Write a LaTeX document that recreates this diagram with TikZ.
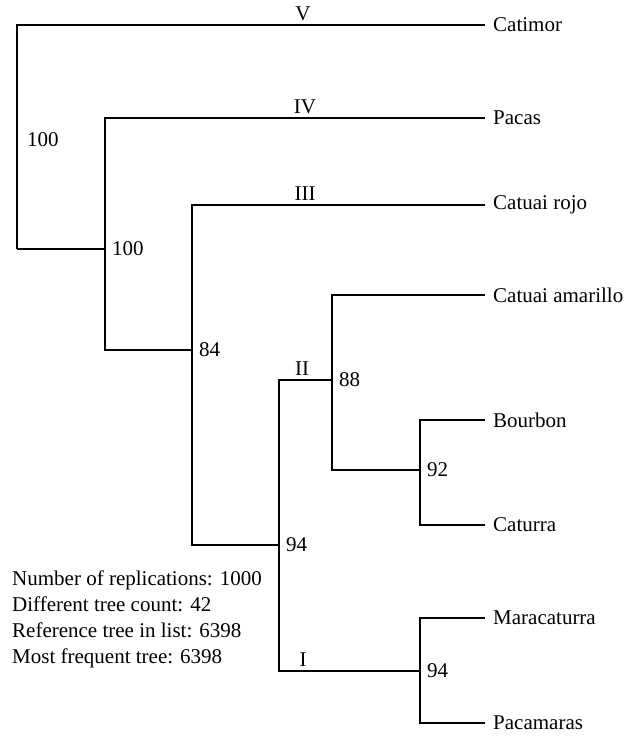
\documentclass[tikz,border=0pt]{standalone}
\usepackage{fontspec}
\setmainfont{Liberation Serif}
\usetikzlibrary{positioning}

\begin{document}
\begin{tikzpicture}[x=1pt,y=-1pt,
  font=\fontsize{21}{26}\selectfont,
  edge/.style={draw=black,line width=1.1pt},
  leaf/.style={anchor=west,inner xsep=8pt,inner ysep=0pt},
  bs/.style={inner sep=3pt},
  br/.style={anchor=south,inner sep=4pt}
]
  \useasboundingbox (0,0) rectangle (641,736);

  % ---- Leaves (right column) ----------------------------------
  \node[leaf] (catimor) at (485, 25) {Catimor};
  \node[leaf] (pacas)   at (485,118) {Pacas};
  \node[leaf] (rojo)    at (485,205) {Catuai rojo};
  \node[leaf] (amar)    at (485,295) {Catuai amarillo};
  \node[leaf] (bourbon) at (485,420) {Bourbon};
  \node[leaf] (caturra) at (485,525) {Caturra};
  \node[leaf] (mara)    at (485,618) {Maracaturra};
  \node[leaf] (pacam)   at (485,723) {Pacamaras};

  % ---- Internal nodes -----------------------------------------
  \coordinate (root) at ( 17,249);
  \coordinate (nA)   at (105,249);
  \coordinate (nB)   at (192,350);
  \coordinate (nC)   at (279,545);
  \coordinate (nD)   at (332,380);
  \coordinate (nE)   at (420,470);
  \coordinate (nF)   at (420,671);

  % ---- Branches -----------------------------------------------
  \draw[edge] (root) |- (catimor.west);
  \draw[edge] (root) -- (nA);
  \draw[edge] (nA) |- (pacas.west);
  \draw[edge] (nA) |- (nB);
  \draw[edge] (nB) |- (rojo.west);
  \draw[edge] (nB) |- (nC);
  \draw[edge] (nC) |- (nD);
  \draw[edge] (nC) |- (nF);
  \draw[edge] (nD) |- (amar.west);
  \draw[edge] (nD) |- (nE);
  \draw[edge] (nE) |- (bourbon.west);
  \draw[edge] (nE) |- (caturra.west);
  \draw[edge] (nF) |- (mara.west);
  \draw[edge] (nF) |- (pacam.west);

  % ---- Bootstrap values ---------------------------------------
  \node[bs,anchor=west] (bsR) at (24,140) {100};
  \node[bs,right=4pt of nA] (bsA) {100};
  \node[bs,right=4pt of nB] (bsB) {84};
  \node[bs,right=4pt of nC] (bsC) {94};
  \node[bs,right=4pt of nD] (bsD) {88};
  \node[bs,right=4pt of nE] (bsE) {92};
  \node[bs,right=4pt of nF] (bsF) {94};

  % ---- Clade numerals -----------------------------------------
  \node[br] (cV)   at (303, 25) {V};
  \node[br] (cIV)  at (305,118) {IV};
  \node[br] (cIII) at (305,205) {III};
  \node[br] (cII)  at (302,380) {II};
  \node[br] (cI)   at (303,671) {I};

  % ---- Bootstrap summary --------------------------------------
  \node[anchor=north west,inner sep=0pt,align=left] (stats) at (12,571)
    {Number of replications: 1000\\
     Different tree count: 42\\
     Reference tree in list: 6398\\
     Most frequent tree: 6398};

\end{tikzpicture}
\end{document}
